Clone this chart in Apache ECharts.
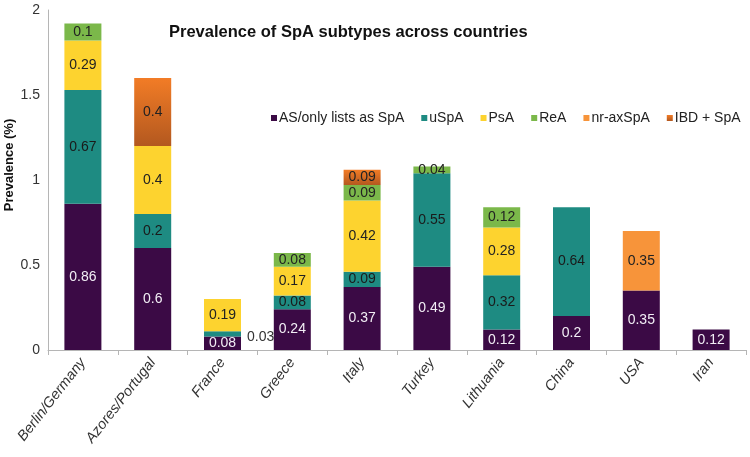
<!DOCTYPE html>
<html><head><meta charset="utf-8">
<script src="https://cdn.jsdelivr.net/npm/echarts@6/dist/echarts.min.js"></script>
<style>html,body{margin:0;padding:0;background:#fff}#c{width:750px;height:457px}</style>
</head><body><div id="c"></div>
<script>
const categories = ['Berlin/Germany','Azores/Portugal','France','Greece','Italy','Turkey','Lithuania','China','USA','Iran'];
const asSpA   = [0.86, 0.6, 0.08, 0.24, 0.37, 0.49, 0.12, 0.2, 0.35, 0.12];
const uSpA    = [0.67, 0.2, 0.03, 0.08, 0.09, 0.55, 0.32, 0.64, null, null];
const psA     = [0.29, 0.4, 0.19, 0.17, 0.42, null, 0.28, null, null, null];
const reA     = [0.1, null, null, 0.08, 0.09, 0.04, 0.12, null, null, null];
const nrAxSpA = [null, null, null, null, null, null, null, null, 0.35, null];
const ibdSpA  = [null, 0.4, null, null, 0.09, null, null, null, null, null];
const yTicks = [0, 0.5, 1, 1.5, 2];

const FONT = 'Liberation Sans, Arial, sans-serif';
const chart = echarts.init(document.getElementById('c'));
const lblBase = {show:true, position:'inside', fontFamily:FONT, fontSize:14, color:'#222',
  formatter: p => (p.value == null ? '' : String(p.value))};
function mk(name, data, color, labelColor) {
  return {
    name, type:'bar', stack:'t', barWidth:37, data: data.map(v => v == null ? '-' : v),
    itemStyle:{color},
    label: Object.assign({}, lblBase, {color: labelColor})
  };
}
const uData = uSpA.map((v,i) => {
  if (v == null) return '-';
  if (i === 2) return {value:v, label:{position:'right', distance:6, color:'#333', offset:[0,3]}};
  return v;
});
const series = [
  mk('AS/only lists as SpA', asSpA, '#3b0a45', '#f2eef5'),
  Object.assign(mk('uSpA', uSpA, '#1e8b82', '#1a1a1a'), {data:uData}),
  mk('PsA', psA, '#fdd32f', '#222'),
  mk('ReA', reA, '#7bb84a', '#222'),
  mk('nr-axSpA', nrAxSpA, '#f7943a', '#222'),
  mk('IBD + SpA', ibdSpA, new echarts.graphic.LinearGradient(0,0,0,1,[{offset:0,color:'#f27c26'},{offset:1,color:'#b3581f'}]), '#222')
];
chart.setOption({
  animation:false,
  textStyle:{fontFamily:FONT},
  title:{text:'Prevalence of SpA subtypes across countries', left:164, top:19,
    textStyle:{fontSize:16.5, fontWeight:'bold', color:'#111', fontFamily:FONT}},
  legend:{left:266, top:106, itemWidth:6, itemHeight:6, itemGap:17, icon:'rect',
    textStyle:{fontSize:14, color:'#222', padding:[0,0,0,-3]},
    data:['AS/only lists as SpA','uSpA','PsA','ReA','nr-axSpA','IBD + SpA']},
  graphic:[{type:'text', x:3, y:165, rotation:Math.PI/2,
    style:{text:'Prevalence (%)', fontFamily:FONT, fontWeight:'bold', fontSize:13, fill:'#111', align:'center', verticalAlign:'top'}}],
  grid:{left:48, right:4, top:10, bottom:107, containLabel:false, outerBoundsMode:'none'},
  xAxis:{type:'category', data:categories,
    axisLine:{lineStyle:{color:'#b5b5b5'}}, axisTick:{show:true, length:5, lineStyle:{color:'#b5b5b5'}},
    axisLabel:{rotate:52, fontStyle:'italic', fontSize:14.5, color:'#333', margin:10, interval:0}},
  yAxis:{type:'value', min:0, max:2, interval:0.5,
    axisLine:{show:true, lineStyle:{color:'#b5b5b5'}}, axisTick:{show:false},
    splitLine:{show:false},
    axisLabel:{fontSize:14, color:'#333', margin:8, formatter: v => yTicks.includes(v) ? String(v) : ''}},
  series
});
</script></body></html>
